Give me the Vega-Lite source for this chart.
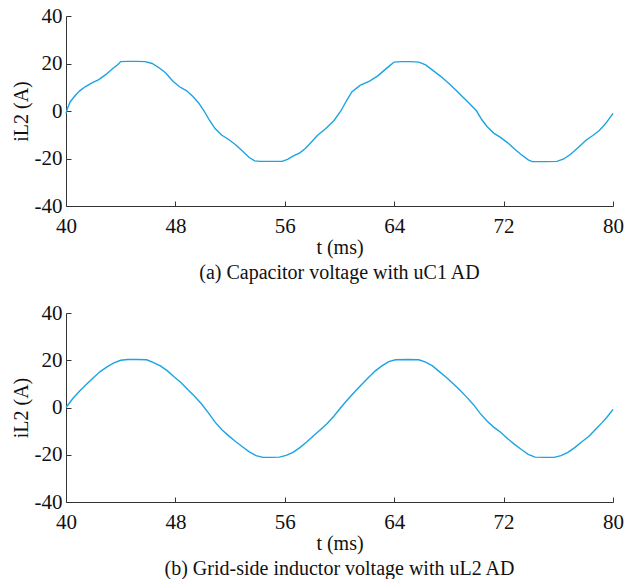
{
  "$schema": "https://vega.github.io/schema/vega-lite/v6.json",
  "background": "white",
  "padding": {"left": 11, "top": 5, "right": 5, "bottom": 0},
  "spacing": 19,
  "datasets": {
    "a": [
      {"t":40.0,"v":-1.0},{"t":40.1,"v":1.0},{"t":40.3,"v":3.8},{"t":40.6,"v":6.0},{"t":41.0,"v":8.5},{"t":41.4,"v":10.2},{"t":41.9,"v":11.8},{"t":42.4,"v":13.2},{"t":42.9,"v":15.3},{"t":43.4,"v":17.8},{"t":43.8,"v":19.6},{"t":44.0,"v":20.8},{"t":44.5,"v":20.9},{"t":45.2,"v":20.9},{"t":45.8,"v":20.8},{"t":46.3,"v":20.0},{"t":46.8,"v":18.2},{"t":47.3,"v":16.0},{"t":47.8,"v":12.6},{"t":48.3,"v":10.2},{"t":48.8,"v":8.6},{"t":49.3,"v":6.0},{"t":49.7,"v":3.4},{"t":50.1,"v":0.0},{"t":50.5,"v":-4.0},{"t":50.9,"v":-7.4},{"t":51.4,"v":-10.2},{"t":51.9,"v":-12.0},{"t":52.4,"v":-14.2},{"t":52.9,"v":-16.8},{"t":53.4,"v":-19.6},{"t":53.8,"v":-21.0},{"t":54.2,"v":-21.2},{"t":55.0,"v":-21.2},{"t":55.8,"v":-21.2},{"t":56.2,"v":-20.4},{"t":56.6,"v":-19.0},{"t":57.1,"v":-17.6},{"t":57.5,"v":-15.8},{"t":57.9,"v":-13.4},{"t":58.4,"v":-10.2},{"t":59.0,"v":-7.4},{"t":59.6,"v":-4.0},{"t":60.1,"v":0.0},{"t":60.5,"v":4.2},{"t":60.9,"v":8.0},{"t":61.5,"v":10.8},{"t":62.2,"v":12.6},{"t":62.8,"v":14.8},{"t":63.2,"v":16.8},{"t":63.7,"v":19.2},{"t":64.0,"v":20.6},{"t":64.5,"v":20.8},{"t":65.2,"v":20.8},{"t":65.8,"v":20.6},{"t":66.3,"v":19.4},{"t":66.8,"v":17.2},{"t":67.4,"v":14.6},{"t":68.0,"v":11.6},{"t":68.5,"v":8.8},{"t":69.0,"v":6.0},{"t":69.5,"v":3.2},{"t":70.0,"v":0.2},{"t":70.4,"v":-3.6},{"t":70.8,"v":-6.6},{"t":71.3,"v":-9.4},{"t":71.8,"v":-11.2},{"t":72.3,"v":-13.4},{"t":72.8,"v":-16.0},{"t":73.3,"v":-18.4},{"t":73.8,"v":-20.6},{"t":74.1,"v":-21.3},{"t":75.0,"v":-21.3},{"t":75.9,"v":-21.2},{"t":76.4,"v":-20.2},{"t":76.9,"v":-18.2},{"t":77.5,"v":-15.2},{"t":78.0,"v":-12.4},{"t":78.5,"v":-10.4},{"t":79.0,"v":-8.2},{"t":79.5,"v":-5.0},{"t":80.0,"v":-1.0}
    ],
    "b": [
      {"t":40.0,"v":0.0},{"t":40.5,"v":3.8},{"t":41.0,"v":7.0},{"t":41.5,"v":9.8},{"t":42.0,"v":12.6},{"t":42.5,"v":15.2},{"t":43.0,"v":17.2},{"t":43.5,"v":18.9},{"t":44.0,"v":20.0},{"t":44.5,"v":20.3},{"t":45.2,"v":20.3},{"t":45.9,"v":20.2},{"t":46.4,"v":19.0},{"t":46.9,"v":17.6},{"t":47.4,"v":15.6},{"t":47.9,"v":13.0},{"t":48.4,"v":10.6},{"t":48.9,"v":7.6},{"t":49.4,"v":4.8},{"t":49.9,"v":1.6},{"t":50.4,"v":-2.2},{"t":50.9,"v":-6.2},{"t":51.4,"v":-9.4},{"t":51.9,"v":-12.0},{"t":52.4,"v":-14.4},{"t":52.9,"v":-16.6},{"t":53.4,"v":-18.8},{"t":53.9,"v":-20.4},{"t":54.4,"v":-21.1},{"t":55.0,"v":-21.1},{"t":55.6,"v":-21.0},{"t":56.1,"v":-20.3},{"t":56.6,"v":-19.0},{"t":57.1,"v":-17.0},{"t":57.6,"v":-14.6},{"t":58.1,"v":-12.0},{"t":58.6,"v":-9.4},{"t":59.1,"v":-6.8},{"t":59.6,"v":-3.6},{"t":60.1,"v":0.0},{"t":60.6,"v":3.4},{"t":61.1,"v":6.6},{"t":61.6,"v":9.6},{"t":62.1,"v":12.6},{"t":62.6,"v":15.4},{"t":63.1,"v":17.6},{"t":63.6,"v":19.4},{"t":64.1,"v":20.2},{"t":65.0,"v":20.3},{"t":65.8,"v":20.2},{"t":66.3,"v":19.2},{"t":66.8,"v":17.6},{"t":67.3,"v":15.2},{"t":67.8,"v":12.8},{"t":68.3,"v":10.2},{"t":68.8,"v":7.4},{"t":69.3,"v":4.4},{"t":69.8,"v":1.2},{"t":70.3,"v":-2.6},{"t":70.8,"v":-5.8},{"t":71.3,"v":-8.4},{"t":71.8,"v":-10.6},{"t":72.3,"v":-13.2},{"t":72.8,"v":-15.6},{"t":73.3,"v":-17.8},{"t":73.8,"v":-19.8},{"t":74.3,"v":-21.0},{"t":75.0,"v":-21.1},{"t":75.7,"v":-21.1},{"t":76.2,"v":-20.4},{"t":76.7,"v":-19.0},{"t":77.2,"v":-17.0},{"t":77.7,"v":-14.6},{"t":78.2,"v":-12.4},{"t":78.7,"v":-9.4},{"t":79.2,"v":-6.4},{"t":79.6,"v":-3.8},{"t":80.0,"v":-0.8}
    ]
  },
  "config": {
    "view": {"stroke": null},
    "font": "Liberation Serif",
    "axis": {
      "grid": false,
      "domainColor": "#333333",
      "domainWidth": 1,
      "tickColor": "#333333",
      "tickSize": -5,
      "labelFont": "Liberation Serif",
      "labelFontSize": 21,
      "labelColor": "#111111",
      "labelExpr": "'' + datum.value",
      "titleFont": "Liberation Serif",
      "titleFontSize": 20,
      "titleFontWeight": "normal",
      "titleColor": "#111111"
    },
    "title": {
      "font": "Liberation Serif",
      "fontSize": 20,
      "fontWeight": "normal",
      "color": "#111111",
      "orient": "bottom",
      "anchor": "middle",
      "offset": 6
    }
  },
  "vconcat": [
    {
      "width": 547,
      "height": 190,
      "data": {"name": "a"},
      "title": {"text": "(a) Capacitor voltage with uC1 AD"},
      "mark": {"type": "line", "color": "#1ba3e3", "strokeWidth": 1.4},
      "encoding": {
        "x": {"field": "t", "type": "quantitative", "scale": {"domain": [40, 80], "nice": false, "zero": false},
          "axis": {"values": [40, 48, 56, 64, 72, 80], "title": "t (ms)", "labelPadding": 14, "titlePadding": 1, "labelFlush": false}},
        "y": {"field": "v", "type": "quantitative", "scale": {"domain": [-40, 40], "nice": false},
          "axis": {"values": [-40, -20, 0, 20, 40], "title": "iL2 (A)", "labelPadding": 9, "titlePadding": 3}}
      }
    },
    {
      "width": 547,
      "height": 189,
      "data": {"name": "b"},
      "title": {"text": "(b) Grid-side inductor voltage with uL2 AD"},
      "mark": {"type": "line", "color": "#1ba3e3", "strokeWidth": 1.4},
      "encoding": {
        "x": {"field": "t", "type": "quantitative", "scale": {"domain": [40, 80], "nice": false, "zero": false},
          "axis": {"values": [40, 48, 56, 64, 72, 80], "title": "t (ms)", "labelPadding": 14, "titlePadding": 1, "labelFlush": false}},
        "y": {"field": "v", "type": "quantitative", "scale": {"domain": [-40, 40], "nice": false},
          "axis": {"values": [-40, -20, 0, 20, 40], "title": "iL2 (A)", "labelPadding": 9, "titlePadding": 3}}
      }
    }
  ]
}
